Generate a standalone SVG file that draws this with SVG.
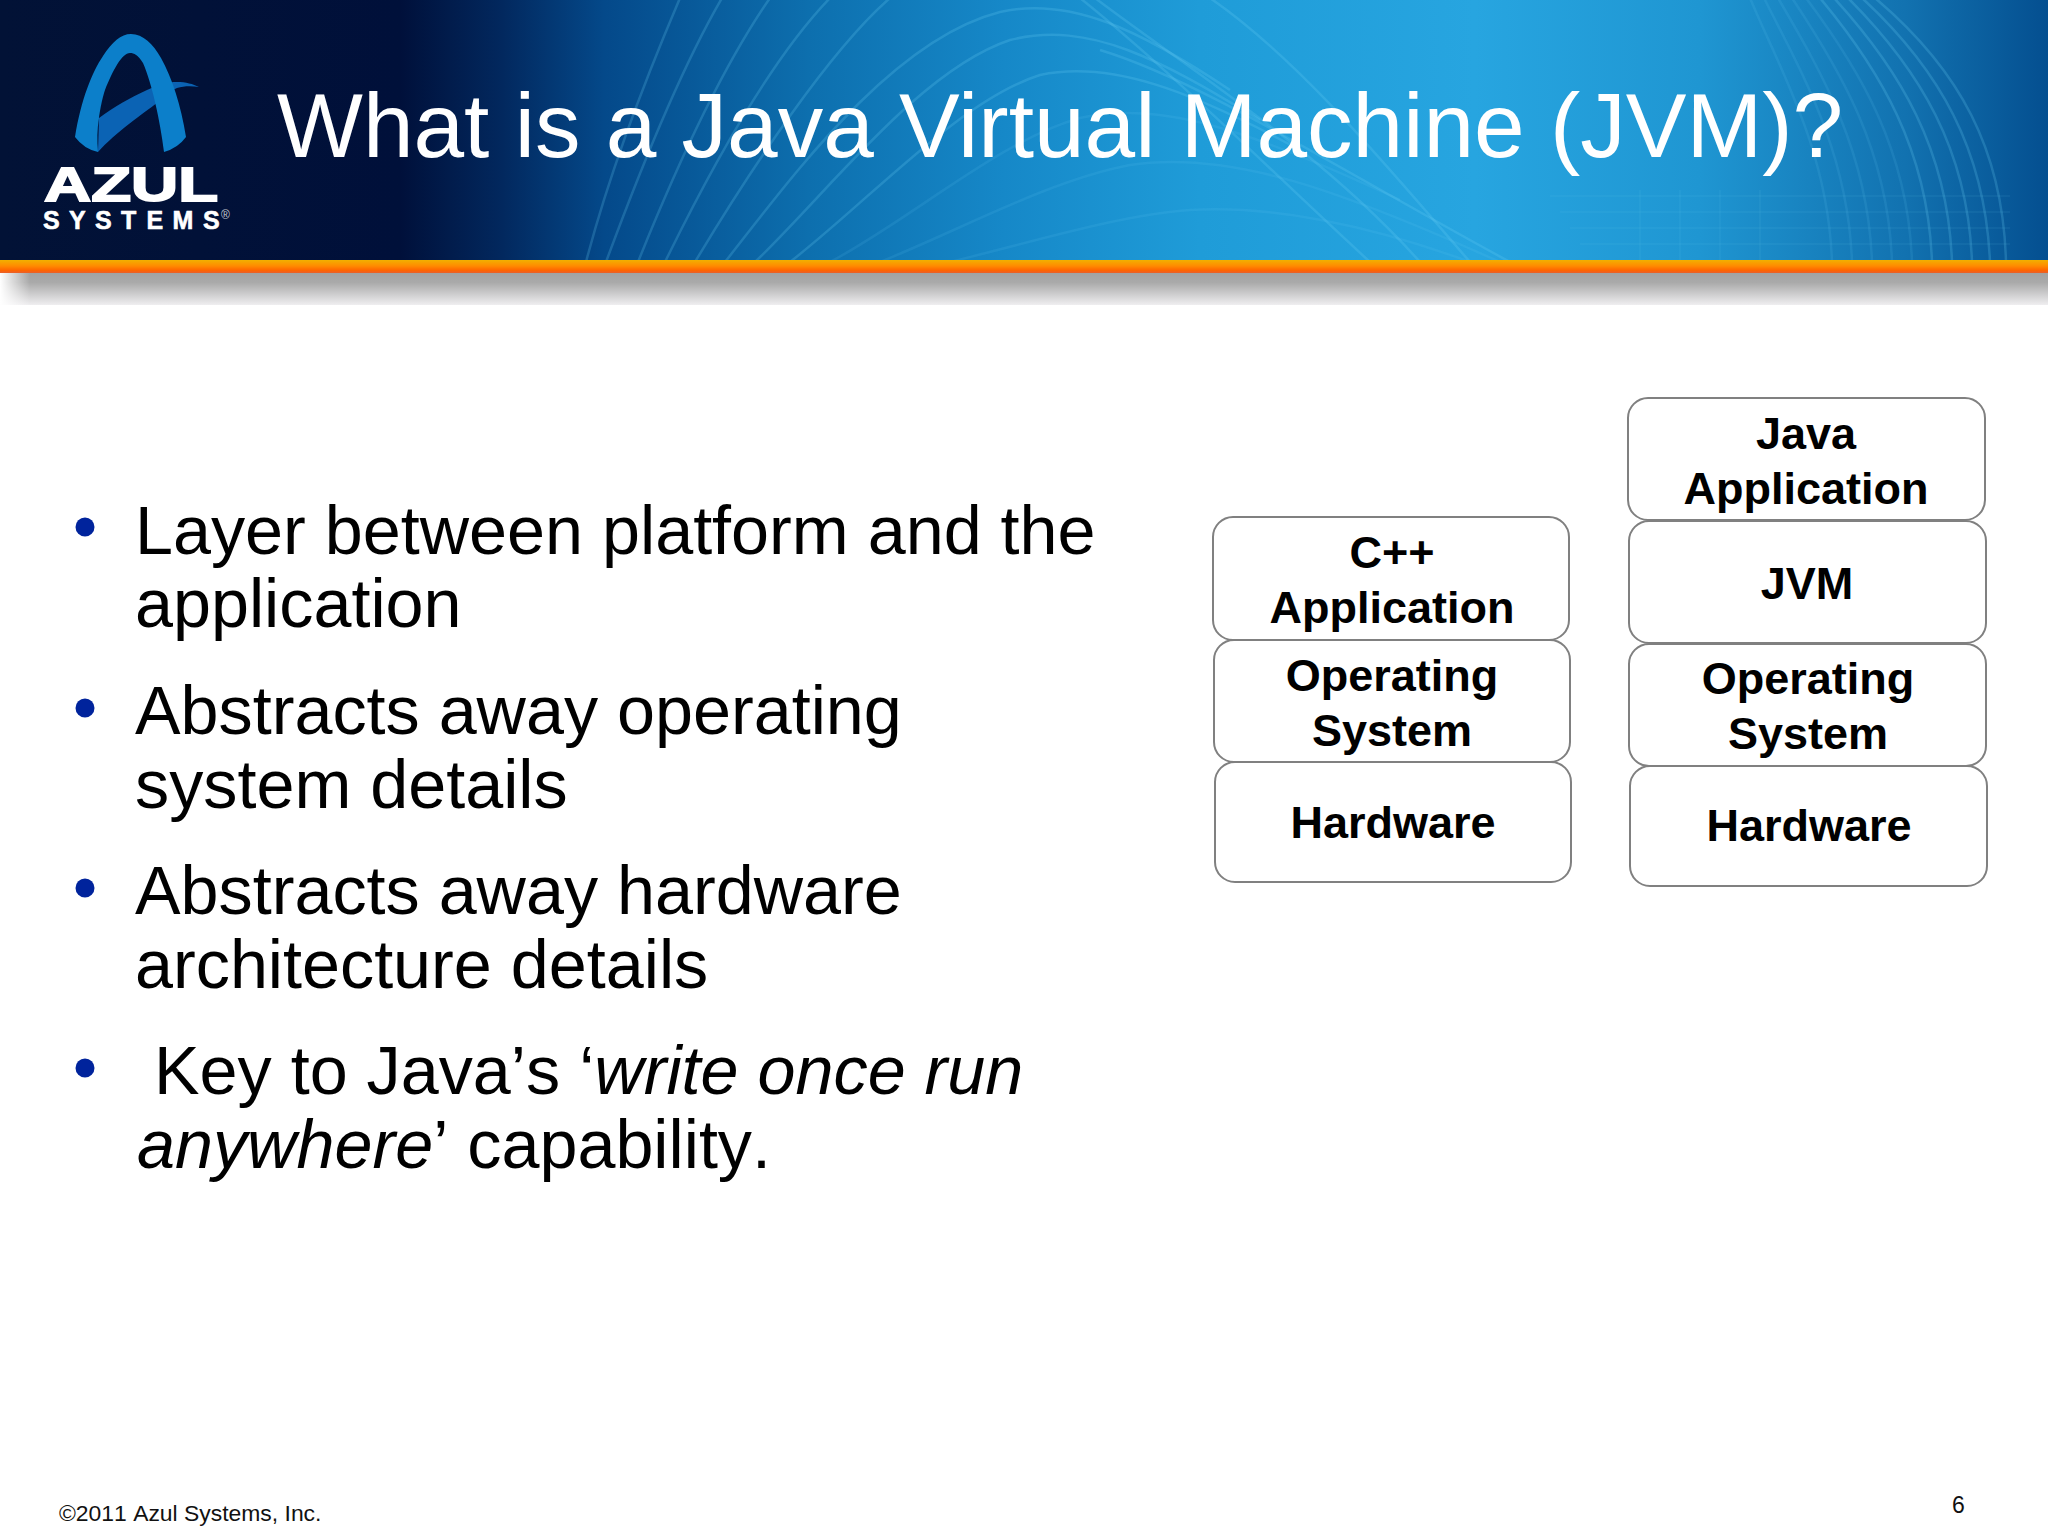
<svg xmlns="http://www.w3.org/2000/svg" width="2048" height="1536" viewBox="0 0 2048 1536">
<style>
text{font-family:"Liberation Sans",Arial,sans-serif}
.bul{font-size:68.3px;fill:#000;font-kerning:none}
.dot{fill:#00239c}
.box{fill:#fff;stroke:#808080;stroke-width:2}
.lbl{font-size:45px;font-weight:700;fill:#000;text-anchor:middle}
.w{fill:none;stroke:#6fd0f4;stroke-width:2.5;opacity:.22}
.w2{fill:none;stroke:#6fd0f4;stroke-width:2.5;opacity:.12}
.g{fill:none;stroke:#6fd0f4;stroke-width:2;opacity:.07}
</style>
<defs>
<linearGradient id="hdr" x1="0" x2="1" y1="0" y2="0">
<stop offset="0" stop-color="#021236"/>
<stop offset=".195" stop-color="#00103a"/>
<stop offset=".245" stop-color="#02285e"/>
<stop offset=".295" stop-color="#04498a"/>
<stop offset=".395" stop-color="#0d6fae"/>
<stop offset=".49" stop-color="#1688c8"/>
<stop offset=".586" stop-color="#1f9cd8"/>
<stop offset=".72" stop-color="#27a5e0"/>
<stop offset=".83" stop-color="#1f96d2"/>
<stop offset=".93" stop-color="#1272b0"/>
<stop offset="1" stop-color="#044f90"/>
</linearGradient>
<linearGradient id="bar" x1="0" x2="0" y1="0" y2="1">
<stop offset="0" stop-color="#f2b000"/>
<stop offset=".45" stop-color="#ff8c00"/>
<stop offset=".8" stop-color="#ff6400"/>
<stop offset="1" stop-color="#e8602c"/>
</linearGradient>
<linearGradient id="shd" x1="0" x2="0" y1="0" y2="1">
<stop offset="0" stop-color="#a2a2a2"/>
<stop offset=".3" stop-color="#aaaaaa"/>
<stop offset="1" stop-color="#efeef0"/>
</linearGradient>
<linearGradient id="shl" x1="0" x2="1" y1="0" y2="0">
<stop offset="0" stop-color="#fff"/>
<stop offset="1" stop-color="#fff" stop-opacity="0"/>
</linearGradient>
<clipPath id="hc"><rect x="0" y="0" width="2048" height="260"/></clipPath>
</defs>

<rect width="2048" height="1536" fill="#fff"/>

<g id="header">
<rect width="2048" height="260" fill="url(#hdr)"/>
<g clip-path="url(#hc)">
<path class="w" d="M586 262C610 170 645 80 680 -2"/>
<path class="w" d="M606 262C640 170 680 70 722 -2"/>
<path class="w" d="M638 262C675 170 720 70 770 -2"/>
<path class="w" d="M665 262C710 170 770 60 830 -2"/>
<path class="w" d="M695 262C750 170 830 50 890 -2"/>
<path class="w" d="M725 262C790 180 890 40 1000 12C1070 -4 1140 30 1230 90"/>
<path class="w" d="M755 262C830 190 920 70 1010 40C1090 20 1160 60 1260 120"/>
<path class="w" d="M790 262C870 200 960 100 1040 75C1110 60 1190 90 1300 150"/>
<path class="w2" d="M830 262C910 220 1000 140 1080 118C1160 100 1250 130 1400 200"/>
<path class="w2" d="M880 262C960 230 1050 180 1130 165C1230 150 1340 190 1500 262"/>
<path class="w2" d="M950 262C1040 240 1120 215 1190 210C1270 205 1370 225 1470 262"/>
<path class="w" d="M1080 -2C1170 70 1270 170 1370 262"/>
<path class="w" d="M1095 -2C1190 70 1320 150 1420 262"/>
<path class="w" d="M1210 -2C1300 60 1390 170 1470 262"/>
<path class="w" d="M1100 50C1200 80 1340 170 1510 262"/>
<path class="w" d="M1875 -2C1960 70 2003 150 2006 262"/>
<path class="w" d="M1862 -2C1940 70 1985 150 1990 262"/>
<path class="w" d="M1848 -2C1920 70 1968 150 1972 262"/>
<path class="w" d="M1834 -2C1900 70 1948 150 1952 262"/>
<path class="w" d="M1820 -2C1880 70 1928 150 1932 262"/>
<path class="w2" d="M1806 -2C1860 70 1908 150 1912 262"/>
<path class="w2" d="M1792 -2C1840 70 1888 150 1892 262"/>
<path class="w2" d="M1778 -2C1820 70 1868 150 1872 262"/>
<path class="w2" d="M1764 -2C1800 70 1848 150 1852 262"/>
<path class="w2" d="M1750 -2C1780 70 1828 150 1832 262"/>
<path class="g" d="M1550 196H2010M1560 212H2010M1570 228H2010M1580 244H2010"/>
<path class="g" d="M1640 190V262M1680 190V262M1720 190V262M1760 190V262"/>
</g>
<rect y="260" width="2048" height="13" fill="url(#bar)"/>
<rect y="273" width="2048" height="32" fill="url(#shd)"/>
<rect y="273" width="30" height="32" fill="url(#shl)"/>
</g>

<g id="logo">
<path d="M99 118C115 106 130 98 147 90C160 84 168 82 177 82C186 82 193 84 199 87C191 86 184 86 177 88C170 91 165 97 157 103C145 112 115 133 98 152Z" fill="#0b63b4"/>
<path d="M75 137C81 100 92 72 103 56C112 42 121 34 131 34C143 34 153 44 161 58C172 78 181 105 186 137Q178 148 164 152C160 120 152 84 143 63C138 55 134 53 130 53C122 53 113 70 105 90C101 102 99 118 99 118C97 130 97 140 98 152Q84 149 75 137Z" fill="#0c7fca"/>
<text x="44" y="201" font-size="48" font-weight="700" fill="#fff" stroke="#fff" stroke-width="1.8" textLength="174" lengthAdjust="spacingAndGlyphs">AZUL</text>
<text x="43 69 95 121 146.6 172.6 203" y="229" font-size="25" font-weight="700" fill="#fff" stroke="#fff" stroke-width=".6">SYSTEMS</text>
<text x="221" y="219" font-size="12" fill="#c4c8d0">®</text>
</g>

<g id="title">
<text x="277" y="157" font-size="91" fill="#fff">What is a Java Virtual Machine (JVM)?</text>
</g>

<g id="bullets">
<circle class="dot" cx="85" cy="527" r="9.5"/>
<text class="bul" x="135" y="554">Layer between platform and the</text>
<text class="bul" x="135" y="627">application</text>
<circle class="dot" cx="85" cy="708" r="9.5"/>
<text class="bul" x="135" y="734">Abstracts away operating</text>
<text class="bul" x="135" y="808">system details</text>
<circle class="dot" cx="85" cy="888" r="9.5"/>
<text class="bul" x="135" y="914">Abstracts away hardware</text>
<text class="bul" x="135" y="988">architecture details</text>
<circle class="dot" cx="85" cy="1068" r="9.5"/>
<text class="bul" x="154" y="1094">Key to Java’s ‘<tspan font-style="italic">write once run</tspan></text>
<text class="bul" x="137" y="1168"><tspan font-style="italic">anywhere</tspan>’ capability.</text>
</g>

<g id="node-cpp-app"><rect class="box" x="1213" y="517" width="356" height="123" rx="20"/><text class="lbl" x="1392" y="568">C++</text><text class="lbl" x="1392" y="623">Application</text></g>
<g id="node-os-left"><rect class="box" x="1214" y="640" width="356" height="122" rx="20"/><text class="lbl" x="1392" y="691">Operating</text><text class="lbl" x="1392" y="746">System</text></g>
<g id="node-hw-left"><rect class="box" x="1215" y="762" width="356" height="120" rx="20"/><text class="lbl" x="1393" y="838">Hardware</text></g>
<g id="node-java-app"><rect class="box" x="1628" y="398" width="357" height="122" rx="20"/><text class="lbl" x="1806" y="449">Java</text><text class="lbl" x="1806" y="504">Application</text></g>
<g id="node-jvm"><rect class="box" x="1629" y="521" width="357" height="122" rx="20"/><text class="lbl" x="1807" y="599">JVM</text></g>
<g id="node-os-right"><rect class="box" x="1629" y="644" width="357" height="122" rx="20"/><text class="lbl" x="1808" y="694">Operating</text><text class="lbl" x="1808" y="749">System</text></g>
<g id="node-hw-right"><rect class="box" x="1630" y="766" width="357" height="120" rx="20"/><text class="lbl" x="1809" y="841">Hardware</text></g>

<g id="footer">
<text x="59" y="1521" font-size="22.9" fill="#111" style="font-kerning:none">©2011 Azul Systems, Inc.</text>
<text x="1952" y="1513" font-size="23" fill="#111">6</text>
</g>
</svg>
